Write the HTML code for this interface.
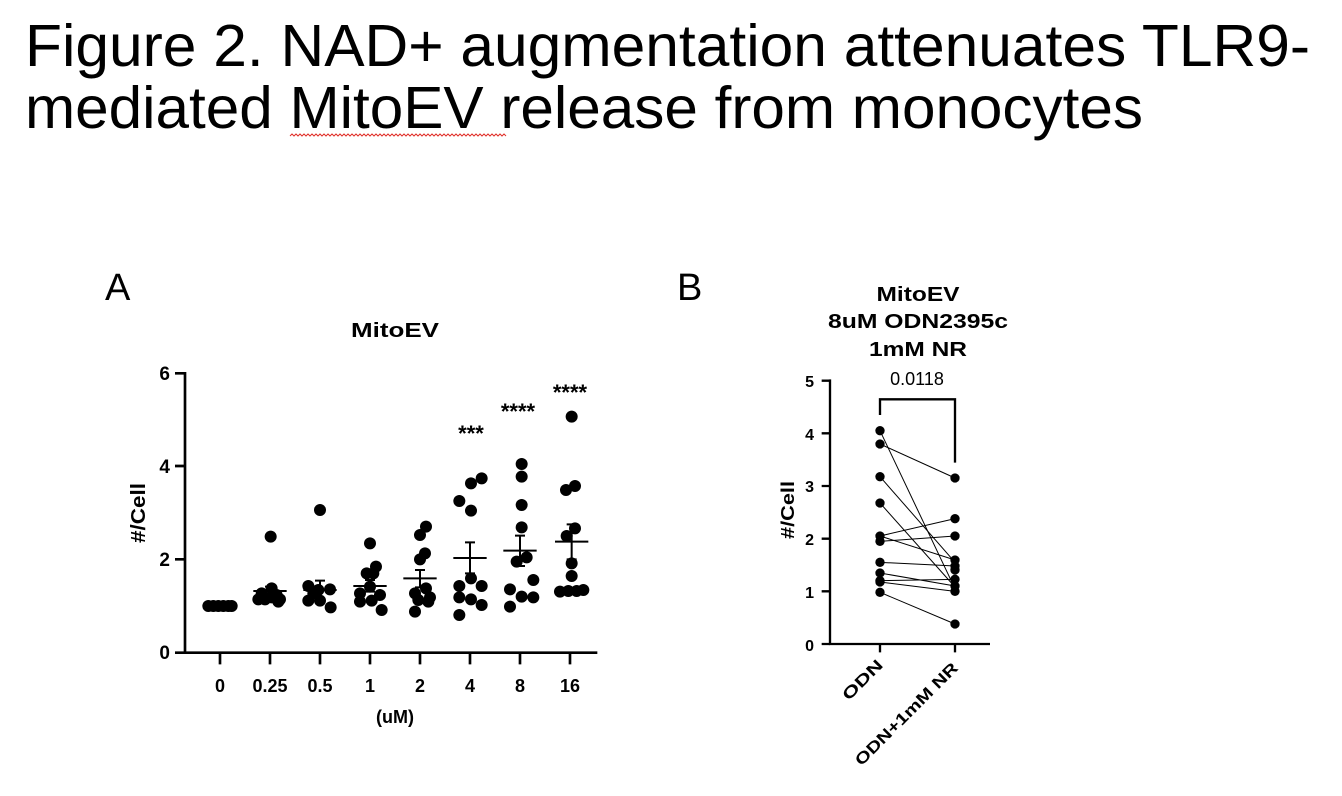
<!DOCTYPE html>
<html><head><meta charset="utf-8"><style>html,body{margin:0;padding:0;background:#fff}svg{display:block}</style></head>
<body>
<svg width="1342" height="796" viewBox="0 0 1342 796" xmlns="http://www.w3.org/2000/svg" font-family="Liberation Sans, Arial, sans-serif">
<text x="25" y="66" font-size="59" textLength="1285" lengthAdjust="spacingAndGlyphs">Figure 2. NAD+ augmentation attenuates TLR9-</text>
<text x="25" y="128" font-size="59" textLength="1118" lengthAdjust="spacingAndGlyphs">mediated MitoEV release from monocytes</text>
<path d="M290,136 l2,-2 l2,2 l2,-2 l2,2 l2,-2 l2,2 l2,-2 l2,2 l2,-2 l2,2 l2,-2 l2,2 l2,-2 l2,2 l2,-2 l2,2 l2,-2 l2,2 l2,-2 l2,2 l2,-2 l2,2 l2,-2 l2,2 l2,-2 l2,2 l2,-2 l2,2 l2,-2 l2,2 l2,-2 l2,2 l2,-2 l2,2 l2,-2 l2,2 l2,-2 l2,2 l2,-2 l2,2 l2,-2 l2,2 l2,-2 l2,2 l2,-2 l2,2 l2,-2 l2,2 l2,-2 l2,2 l2,-2 l2,2 l2,-2 l2,2 l2,-2 l2,2 l2,-2 l2,2 l2,-2 l2,2 l2,-2 l2,2 l2,-2 l2,2 l2,-2 l2,2 l2,-2 l2,2 l2,-2 l2,2 l2,-2 l2,2 l2,-2 l2,2 l2,-2 l2,2 l2,-2 l2,2 l2,-2 l2,2 l2,-2 l2,2 l2,-2 l2,2 l2,-2 l2,2 l2,-2 l2,2 l2,-2 l2,2 l2,-2 l2,2 l2,-2 l2,2 l2,-2 l2,2 l2,-2 l2,2 l2,-2 l2,2 l2,-2 l2,2 l2,-2 l2,2 l2,-2 l2,2 l2,-2 l2,2" fill="none" stroke="#e0302a" stroke-width="1"/>

<text x="105" y="300" font-size="38">A</text>
<text x="677" y="300" font-size="38">B</text>

<!-- Chart A -->
<text x="395" y="337" font-size="20" font-weight="bold" text-anchor="middle" textLength="88" lengthAdjust="spacingAndGlyphs">MitoEV</text>
<text transform="translate(145,513) rotate(-90)" font-size="20" font-weight="bold" text-anchor="middle" textLength="60" lengthAdjust="spacingAndGlyphs">#/Cell</text>
<g font-size="19" font-weight="bold" text-anchor="end">
<text x="170" y="380">6</text><text x="170" y="473">4</text><text x="170" y="566">2</text><text x="170" y="659">0</text>
</g>
<g font-size="18" font-weight="bold" text-anchor="middle">
<text x="220" y="692">0</text><text x="270" y="692">0.25</text><text x="320" y="692">0.5</text><text x="370" y="692">1</text><text x="420" y="692">2</text><text x="470" y="692">4</text><text x="520" y="692">8</text><text x="570" y="692">16</text>
<text x="395" y="723">(uM)</text>
</g>
<g transform="translate(140,360) scale(0.33333)">
<g stroke="#000" stroke-width="8" fill="none">
<path d="M135,36 V878 H1372"/>
<path d="M105,40 H135 M105,318 H135 M105,598 H135 M105,878 H135"/>
<path d="M240,878 v35 M390,878 v35 M540,878 v35 M690,878 v35 M840,878 v35 M990,878 v35 M1140,878 v35 M1290,878 v35"/>
</g>
<g stroke="#000" stroke-width="6" fill="none">
<path d="M340,693 H440 M390,680 V705 M375,680 H405 M375,705 H405"/>
<path d="M490,690 H590 M540,662 V718 M525,662 H555"/>
<path d="M640,678 H740 M690,660 V695 M675,660 H705 M675,695 H705"/>
<path d="M790,655 H890 M840,630 V682 M825,630 H855 M825,682 H855"/>
<path d="M940,594 H1040 M990,547 V640 M975,547 H1005 M975,640 H1005"/>
<path d="M1090,572 H1190 M1140,527 V618 M1125,527 H1155 M1125,618 H1155"/>
<path d="M1245,545 H1345 M1295,493 V598 M1280,493 H1310 M1280,598 H1310"/>
</g>
<g fill="#000">
<circle cx="205" cy="738" r="18"/><circle cx="220" cy="738" r="18"/><circle cx="235" cy="738" r="18"/><circle cx="250" cy="738" r="18"/><circle cx="265" cy="738" r="18"/><circle cx="275" cy="738" r="18"/>
<circle cx="392" cy="530" r="18"/><circle cx="355" cy="718" r="18"/><circle cx="375" cy="718" r="18"/><circle cx="395" cy="712" r="18"/><circle cx="415" cy="725" r="18"/><circle cx="395" cy="685" r="18"/><circle cx="365" cy="700" r="18"/><circle cx="410" cy="705" r="18"/><circle cx="420" cy="718" r="18"/>
<circle cx="540" cy="450" r="18"/><circle cx="505" cy="678" r="18"/><circle cx="535" cy="690" r="18"/><circle cx="570" cy="688" r="18"/><circle cx="505" cy="722" r="18"/><circle cx="540" cy="722" r="18"/><circle cx="572" cy="742" r="18"/><circle cx="520" cy="700" r="18"/>
<circle cx="690" cy="550" r="18"/><circle cx="708" cy="620" r="18"/><circle cx="680" cy="640" r="18"/><circle cx="700" cy="640" r="18"/><circle cx="660" cy="700" r="18"/><circle cx="720" cy="705" r="18"/><circle cx="660" cy="725" r="18"/><circle cx="695" cy="722" r="18"/><circle cx="725" cy="750" r="18"/><circle cx="690" cy="680" r="18"/>
<circle cx="858" cy="500" r="18"/><circle cx="840" cy="525" r="18"/><circle cx="855" cy="580" r="18"/><circle cx="840" cy="598" r="18"/><circle cx="858" cy="685" r="18"/><circle cx="825" cy="700" r="18"/><circle cx="870" cy="712" r="18"/><circle cx="835" cy="720" r="18"/><circle cx="865" cy="725" r="18"/><circle cx="825" cy="755" r="18"/>
<circle cx="958" cy="423" r="18"/><circle cx="993" cy="370" r="18"/><circle cx="1025" cy="355" r="18"/><circle cx="993" cy="452" r="18"/><circle cx="993" cy="655" r="18"/><circle cx="958" cy="678" r="18"/><circle cx="1025" cy="678" r="18"/><circle cx="958" cy="712" r="18"/><circle cx="993" cy="718" r="18"/><circle cx="1025" cy="735" r="18"/><circle cx="958" cy="765" r="18"/>
<circle cx="1145" cy="312" r="18"/><circle cx="1145" cy="350" r="18"/><circle cx="1145" cy="435" r="18"/><circle cx="1145" cy="502" r="18"/><circle cx="1130" cy="605" r="18"/><circle cx="1160" cy="592" r="18"/><circle cx="1110" cy="688" r="18"/><circle cx="1180" cy="660" r="18"/><circle cx="1110" cy="740" r="18"/><circle cx="1145" cy="710" r="18"/><circle cx="1180" cy="712" r="18"/>
<circle cx="1295" cy="170" r="18"/><circle cx="1278" cy="390" r="18"/><circle cx="1305" cy="378" r="18"/><circle cx="1305" cy="505" r="18"/><circle cx="1280" cy="528" r="18"/><circle cx="1295" cy="610" r="18"/><circle cx="1295" cy="648" r="18"/><circle cx="1260" cy="695" r="18"/><circle cx="1285" cy="693" r="18"/><circle cx="1310" cy="693" r="18"/><circle cx="1330" cy="690" r="18"/>
</g>
</g>
<g font-size="22" font-weight="bold" text-anchor="middle">
<text x="471" y="441">***</text><text x="518" y="419">****</text><text x="570" y="400">****</text>
</g>

<!-- Chart B -->
<g font-size="20" font-weight="bold" text-anchor="middle">
<text x="918" y="301" textLength="83" lengthAdjust="spacingAndGlyphs">MitoEV</text><text x="918" y="328" textLength="180" lengthAdjust="spacingAndGlyphs">8uM ODN2395c</text><text x="918" y="356" textLength="98" lengthAdjust="spacingAndGlyphs">1mM NR</text>
</g>
<text x="917" y="385" font-size="18" text-anchor="middle">0.0118</text>
<text transform="translate(794,510) rotate(-90)" font-size="18" font-weight="bold" text-anchor="middle" textLength="58" lengthAdjust="spacingAndGlyphs">#/Cell</text>
<g font-size="16" font-weight="bold" text-anchor="end">
<text x="814" y="387">5</text><text x="814" y="440">4</text><text x="814" y="492">3</text><text x="814" y="545">2</text><text x="814" y="598">1</text><text x="814" y="651">0</text>
</g>
<g transform="translate(770,370) scale(0.33333)">
<g stroke="#000" stroke-width="7" fill="none">
<path d="M180,28 V822 H660"/>
<path d="M155,32 H180 M155,190 H180 M155,348 H180 M155,506 H180 M155,664 H180 M155,822 H180"/>
<path d="M330,822 v25 M555,822 v25"/>
<path d="M330,135 V88 H555 V278"/>
</g>
<g stroke="#000" stroke-width="3" fill="none">
<path d="M330,182 L555,656"/><path d="M330,222 L555,324"/><path d="M330,320 L555,577"/><path d="M330,399 L555,651"/>
<path d="M330,498 L555,570"/><path d="M330,514 L555,498"/><path d="M330,577 L555,588"/><path d="M330,609 L555,648"/>
<path d="M330,632 L555,628"/><path d="M330,636 L555,664"/><path d="M330,667 L555,762"/><path d="M330,498 L555,446"/>
</g>
<g fill="#000">
<circle cx="330" cy="182" r="14"/><circle cx="330" cy="222" r="14"/><circle cx="330" cy="320" r="14"/><circle cx="330" cy="399" r="14"/><circle cx="330" cy="498" r="14"/><circle cx="330" cy="514" r="14"/><circle cx="330" cy="577" r="14"/><circle cx="330" cy="609" r="14"/><circle cx="330" cy="632" r="14"/><circle cx="330" cy="636" r="14"/><circle cx="330" cy="667" r="14"/>
<circle cx="555" cy="324" r="14"/><circle cx="555" cy="446" r="14"/><circle cx="555" cy="498" r="14"/><circle cx="555" cy="570" r="14"/><circle cx="555" cy="588" r="14"/><circle cx="555" cy="600" r="14"/><circle cx="555" cy="628" r="14"/><circle cx="555" cy="648" r="14"/><circle cx="555" cy="664" r="14"/><circle cx="555" cy="762" r="14"/>
</g>
</g>
<g font-size="16" font-weight="bold" text-anchor="end">
<text transform="translate(884,666) rotate(-45)" textLength="50" lengthAdjust="spacingAndGlyphs">ODN</text>
<text transform="translate(959,669) rotate(-45)" textLength="138" lengthAdjust="spacingAndGlyphs">ODN+1mM NR</text>
</g>
</svg>
</body></html>
